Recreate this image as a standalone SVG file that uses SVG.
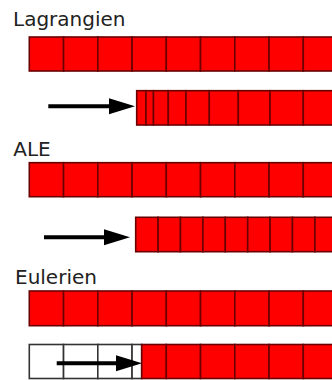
<svg xmlns="http://www.w3.org/2000/svg" width="332" height="380" viewBox="0 0 332 380">
<defs>
<style>
.lbl{font-family:"DejaVu Sans","Liberation Sans",sans-serif;font-size:20px;fill:#222}
.c{fill:#ff0000;stroke:#6a0000;stroke-width:1.6}
.w{fill:#ffffff;stroke:#333333;stroke-width:1.6}
.arr{stroke:#000;stroke-width:4;fill:none}
</style>
<marker id="ah" markerUnits="userSpaceOnUse" markerWidth="28" markerHeight="17" refX="2" refY="8" orient="auto">
<path d="M0,0 L26,8 L0,16 Z" fill="#000"/>
</marker>
</defs>
<rect width="332" height="380" fill="#fff"/>
<g id="lagrangien">
<text class="lbl" x="13" y="26.3">Lagrangien</text>
<g id="lag-row1">
<rect class="c" x="29.3" y="37" width="34.25" height="34"/>
<rect class="c" x="63.55" y="37" width="34.25" height="34"/>
<rect class="c" x="97.8" y="37" width="34.25" height="34"/>
<rect class="c" x="132.05" y="37" width="34.25" height="34"/>
<rect class="c" x="166.3" y="37" width="34.25" height="34"/>
<rect class="c" x="200.55" y="37" width="34.25" height="34"/>
<rect class="c" x="234.8" y="37" width="34.25" height="34"/>
<rect class="c" x="269.05" y="37" width="34.25" height="34"/>
<rect class="c" x="303.3" y="37" width="34.25" height="34"/>
</g>
<g id="lag-row2">
<rect class="c" x="136.7" y="90.7" width="9.3" height="34.3"/>
<rect class="c" x="146" y="90.7" width="7.5" height="34.3"/>
<rect class="c" x="153.5" y="90.7" width="14.8" height="34.3"/>
<rect class="c" x="168.3" y="90.7" width="17.7" height="34.3"/>
<rect class="c" x="186" y="90.7" width="23.3" height="34.3"/>
<rect class="c" x="209.3" y="90.7" width="29" height="34.3"/>
<rect class="c" x="238.3" y="90.7" width="31.7" height="34.3"/>
<rect class="c" x="270" y="90.7" width="33.3" height="34.3"/>
<rect class="c" x="303.3" y="90.7" width="34" height="34.3"/>
</g>
</g>
<g id="ale">
<text class="lbl" x="13.3" y="155.7">ALE</text>
<g id="ale-row1">
<rect class="c" x="29.3" y="162.7" width="34.25" height="34"/>
<rect class="c" x="63.55" y="162.7" width="34.25" height="34"/>
<rect class="c" x="97.8" y="162.7" width="34.25" height="34"/>
<rect class="c" x="132.05" y="162.7" width="34.25" height="34"/>
<rect class="c" x="166.3" y="162.7" width="34.25" height="34"/>
<rect class="c" x="200.55" y="162.7" width="34.25" height="34"/>
<rect class="c" x="234.8" y="162.7" width="34.25" height="34"/>
<rect class="c" x="269.05" y="162.7" width="34.25" height="34"/>
<rect class="c" x="303.3" y="162.7" width="34.25" height="34"/>
</g>
<g id="ale-row2">
<rect class="c" x="135.7" y="217.3" width="22.4" height="34.4"/>
<rect class="c" x="158.1" y="217.3" width="22.4" height="34.4"/>
<rect class="c" x="180.5" y="217.3" width="22.4" height="34.4"/>
<rect class="c" x="202.9" y="217.3" width="22.4" height="34.4"/>
<rect class="c" x="225.3" y="217.3" width="22.4" height="34.4"/>
<rect class="c" x="247.7" y="217.3" width="22.4" height="34.4"/>
<rect class="c" x="270.1" y="217.3" width="22.4" height="34.4"/>
<rect class="c" x="292.5" y="217.3" width="22.4" height="34.4"/>
<rect class="c" x="314.9" y="217.3" width="22.4" height="34.4"/>
</g>
</g>
<g id="eulerien">
<text class="lbl" x="15" y="284">Eulerien</text>
<g id="eul-row1">
<rect class="c" x="29.3" y="291" width="34.25" height="34.7"/>
<rect class="c" x="63.55" y="291" width="34.25" height="34.7"/>
<rect class="c" x="97.8" y="291" width="34.25" height="34.7"/>
<rect class="c" x="132.05" y="291" width="34.25" height="34.7"/>
<rect class="c" x="166.3" y="291" width="34.25" height="34.7"/>
<rect class="c" x="200.55" y="291" width="34.25" height="34.7"/>
<rect class="c" x="234.8" y="291" width="34.25" height="34.7"/>
<rect class="c" x="269.05" y="291" width="34.25" height="34.7"/>
<rect class="c" x="303.3" y="291" width="34.25" height="34.7"/>
</g>
<g id="eul-row2">
<rect class="w" x="29.3" y="344.5" width="34.25" height="34"/>
<rect class="w" x="63.55" y="344.5" width="34.25" height="34"/>
<rect class="w" x="97.8" y="344.5" width="34.25" height="34"/>
<rect class="w" x="132.05" y="344.5" width="9.65" height="34"/>
<rect class="c" x="141.7" y="344.5" width="24.6" height="34"/>
<rect class="c" x="166.3" y="344.5" width="34.25" height="34"/>
<rect class="c" x="200.55" y="344.5" width="34.25" height="34"/>
<rect class="c" x="234.8" y="344.5" width="34.25" height="34"/>
<rect class="c" x="269.05" y="344.5" width="34.25" height="34"/>
<rect class="c" x="303.3" y="344.5" width="34.25" height="34"/>
</g>
</g>
<g id="connectors">
<line class="arr" x1="48.3" y1="106.3" x2="111" y2="106.3" marker-end="url(#ah)"/>
<line class="arr" x1="44" y1="237.3" x2="106" y2="237.3" marker-end="url(#ah)"/>
<line class="arr" x1="56.7" y1="363.3" x2="118" y2="363.3" marker-end="url(#ah)"/>
</g>
</svg>
